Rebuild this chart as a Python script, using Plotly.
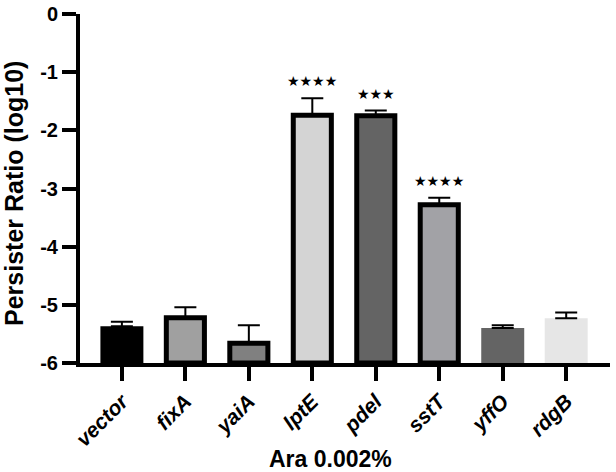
import plotly.graph_objects as go

categories = ["vector", "fixA", "yaiA", "lptE", "pdel", "sstT", "yffO", "rdgB"]
values = [-5.37, -5.22, -5.66, -1.74, -1.75, -3.28, -5.40, -5.23]
errors = [0.08, 0.18, 0.31, 0.29, 0.09, 0.12, 0.05, 0.10]
stars = ["", "", "", "****", "***", "****", "", ""]
fills = ["#000000", "#a0a0a0", "#808080", "#d4d4d4", "#646464", "#a2a2a6", "#646464", "#e6e6e6"]
bordered = [False, True, True, True, True, True, False, False]
y_ticks = [0, -1, -2, -3, -4, -5, -6]
y_ticktext = ["0", "-1", "-2", "-3", "-4", "-5", "-6"]
baseline = -6

FONT = "Liberation Sans, Arial, sans-serif"
W, H = 616, 472
L, R, T, B = 80, 6, 14, 109
pw, ph = W - L - R, H - T - B

heights = [v - baseline for v in values]
widths = [0.60 if b else 0.677 for b in bordered]
line_w = [5 if b else 0 for b in bordered]

fig = go.Figure()
fig.add_trace(go.Bar(
    x=list(range(len(categories))),
    y=heights,
    base=baseline,
    width=widths,
    marker=dict(color=fills, line=dict(color="black", width=line_w)),
    error_y=dict(type="data", array=errors, arrayminus=[0] * len(errors),
                 symmetric=False, color="black", thickness=2, width=11),
    hoverinfo="skip",
))

for i, s in enumerate(stars):
    if s:
        fig.add_annotation(
            x=i, y=values[i] + errors[i], xref="x", yref="y",
            text="★" * len(s), showarrow=False, yanchor="bottom", yshift=7,
            font=dict(family="DejaVu Sans", size=14, color="black"),
        )

# axis titles placed at pixel positions
fig.add_annotation(x=(330 - L) / pw, y=-(459 - (T + ph)) / ph, xref="paper", yref="paper",
                   text="<b>Ara 0.002%</b>", showarrow=False,
                   xanchor="center", yanchor="middle",
                   font=dict(family=FONT, size=23, color="black"))
fig.add_annotation(x=(14 - L) / pw, y=((T + ph) - 194) / ph, xref="paper", yref="paper",
                   text="<b>Persister Ratio (log10)</b>", textangle=-90, showarrow=False,
                   xanchor="center", yanchor="middle",
                   font=dict(family=FONT, size=25, color="black"))

fig.update_layout(
    width=W, height=H,
    margin=dict(l=L, r=R, t=T, b=B, autoexpand=False),
    plot_bgcolor="white", paper_bgcolor="white",
    showlegend=False,
    font=dict(family=FONT, color="black"),
)

fig.update_xaxes(
    range=[-0.66, 7.69], automargin=False,
    tickmode="array", tickvals=list(range(len(categories))),
    ticktext=[f"<b><i>{c}</i></b>" for c in categories],
    tickangle=-45, tickfont=dict(family=FONT, size=21, color="black"),
    showline=True, linecolor="black", linewidth=4,
    ticks="outside", ticklen=14, tickwidth=4, tickcolor="black",
    showgrid=False, zeroline=False,
)
fig.update_yaxes(
    range=[-6, 0], automargin=False,
    tickmode="array", tickvals=y_ticks,
    ticktext=[f"<b>{t}</b>" for t in y_ticktext],
    tickfont=dict(family=FONT, size=20, color="black"),
    showline=True, linecolor="black", linewidth=4,
    ticks="outside", ticklen=14, tickwidth=4, tickcolor="black",
    showgrid=False, zeroline=False,
)

fig.write_html("out.html", config={"displayModeBar": False, "staticPlot": True},
               post_script="document.body.style.margin='0';document.body.style.overflow='hidden';")
